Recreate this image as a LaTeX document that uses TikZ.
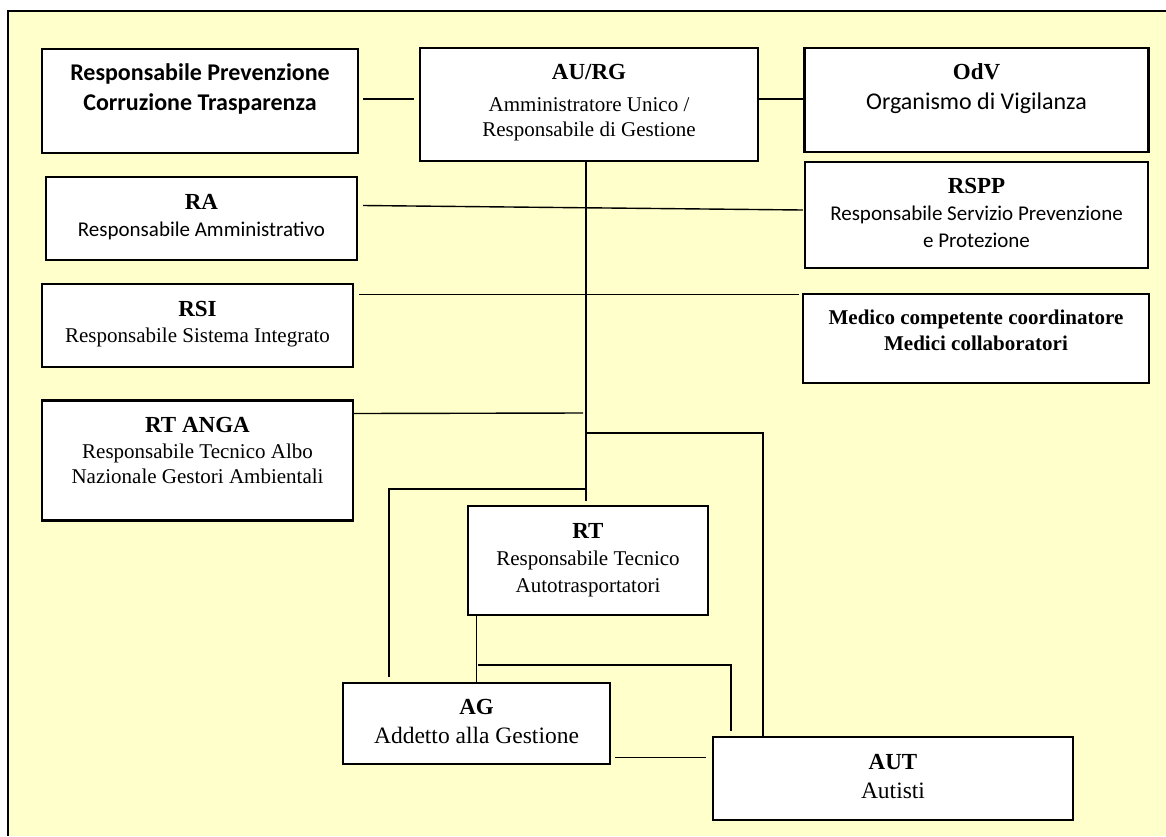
\documentclass[tikz,border=0pt]{standalone}
\usepackage{fontspec}
\setmainfont{Liberation Serif}
\newfontfamily\calibfont{Carlito}
\usetikzlibrary{calc}
\definecolor{bgyellow}{RGB}{255,255,204}
\begin{document}
\begin{tikzpicture}[x=1pt,y=-1pt,
  box/.style={draw=black, line width=2.2pt, fill=white, inner sep=0pt},
  conn/.style={line width=1.4pt, draw=black},
  tit/.style={anchor=base, inner sep=0pt, font=\fontsize{23}{27}\selectfont\bfseries},
  txt/.style={anchor=base, inner sep=0pt, font=\fontsize{21}{25}\selectfont},
  btxt/.style={anchor=base, inner sep=0pt, font=\fontsize{21}{25}\selectfont\bfseries},
  ltxt/.style={anchor=base, inner sep=0pt, font=\fontsize{23.5}{27}\selectfont},
  ctxt/.style={anchor=base, inner sep=0pt, font=\calibfont\fontsize{21}{25}\selectfont},
  lctxt/.style={anchor=base, inner sep=0pt, font=\calibfont\fontsize{24}{28}\selectfont},
  cbtxt/.style={anchor=base, inner sep=0pt, font=\calibfont\fontsize{24}{28}\selectfont\bfseries}]
\useasboundingbox (0,0) rectangle (1166,836);
\fill[bgyellow] (8,11) rectangle (1166,836);
\draw[line width=2pt] (8,836) -- (8,11) -- (1166,11);

% boxes
\node[box, minimum width=316pt, minimum height=104pt] (rpct) at (200,101) {};
\node[box, minimum width=338pt, minimum height=113pt] (au) at (589,104.5) {};
\node[box, minimum width=344pt, minimum height=104pt] (odv) at (976.5,100) {};
\node[box, minimum width=343pt, minimum height=106pt] (rspp) at (976.5,215) {};
\node[box, minimum width=311pt, minimum height=83pt] (ra) at (201.5,218.5) {};
\node[box, minimum width=311pt, minimum height=83pt] (rsi) at (197.5,325.5) {};
\node[box, minimum width=311pt, minimum height=120pt] (rtanga) at (197.5,460.5) {};
\node[box, minimum width=346pt, minimum height=89pt] (medico) at (976,338.5) {};
\node[box, minimum width=240pt, minimum height=109pt] (rt) at (588,560.5) {};
\node[box, minimum width=267pt, minimum height=81pt] (ag) at (476.5,723.5) {};
\node[box, minimum width=360pt, minimum height=83pt] (aut) at (893,778.5) {};

% texts
\node[cbtxt] (rpct1) at ($(rpct.north)+(0,33)$) {Responsabile Prevenzione};
\node[cbtxt] (rpct2) at ($(rpct.north)+(0,63)$) {Corruzione Trasparenza};

\node[tit] (au1) at ($(au.north)+(0,33)$) {AU/RG};
\node[txt] (au2) at ($(au.north)+(0,65)$) {Amministratore Unico /};
\node[txt] (au3) at ($(au.north)+(0,90)$) {Responsabile di Gestione};

\node[tit] (odv1) at ($(odv.north)+(0,33)$) {OdV};
\node[lctxt] (odv2) at ($(odv.north)+(0,63)$) {Organismo di Vigilanza};

\node[tit] (rspp1) at ($(rspp.north)+(0,33)$) {RSPP};
\node[ctxt] (rspp2) at ($(rspp.north)+(0,59.7)$) {Responsabile Servizio Prevenzione};
\node[ctxt] (rspp3) at ($(rspp.north)+(0,87)$) {e Protezione};

\node[tit] (ra1) at ($(ra.north)+(0,33.7)$) {RA};
\node[ctxt] (ra2) at ($(ra.north)+(0,60.7)$) {Responsabile Amministrativo};

\node[tit] (rsi1) at ($(rsi.north)+(0,33.3)$) {RSI};
\node[txt] (rsi2) at ($(rsi.north)+(0,60)$) {Responsabile Sistema Integrato};

\node[tit] (rtanga1) at ($(rtanga.north)+(0,32.6)$) {RT ANGA};
\node[txt] (rtanga2) at ($(rtanga.north)+(0,59.3)$) {Responsabile Tecnico Albo};
\node[txt] (rtanga3) at ($(rtanga.north)+(0,84.3)$) {Nazionale Gestori Ambientali};

\node[btxt] (med1) at ($(medico.north)+(0,32)$) {Medico competente coordinatore};
\node[btxt] (med2) at ($(medico.north)+(0,57.7)$) {Medici collaboratori};

\node[tit] (rt1) at ($(rt.north)+(0,34)$) {RT};
\node[txt] (rt2) at ($(rt.north)+(0,60.7)$) {Responsabile Tecnico};
\node[txt] (rt3) at ($(rt.north)+(0,87.3)$) {Autotrasportatori};

\node[tit] (ag1) at ($(ag.north)+(0,32.7)$) {AG};
\node[ltxt] (ag2) at ($(ag.north)+(0,62)$) {Addetto alla Gestione};

\node[tit] (aut1) at ($(aut.north)+(0,34)$) {AUT};
\node[ltxt] (aut2) at ($(aut.north)+(0,63)$) {Autisti};

% junction coordinates
\coordinate (angaend) at (583,413);
\coordinate (j1) at (586,433);
\coordinate (j2) at (586,489);
\coordinate (j3) at (478,665);

% connectors
\draw[conn] ($(rpct.east)+(4,-2)$) -- ($(au.west)+(-5,-5.5)$);
\draw[conn] ($(au.east)+(0,-5.5)$) -- ($(odv.west)+(0,-1)$);
\draw[conn] ($(au.south)+(-3,0)$) -- ($(rt.north)+(-2,-4)$);
\draw[conn] ($(ra.east)+(5,-13)$) -- ($(rspp.west)+(-1,-5)$);
\draw[conn] ($(rsi.east)+(5,-31)$) -- ($(medico.west)+(-3,-44)$);
\draw[conn] ($(rtanga.east)+(0,-47)$) -- (angaend);
\draw[conn] (j1) -| ($(aut.north west)+(51,0)$);
\draw[conn] (j2) -| ($(ag.north west)+(47,-5)$);
\draw[conn] (ag.north |- rt.south) -- (ag.north);
\draw[conn] (j3) -| ($(aut.north west)+(19,-5)$);
\draw[conn] ($(ag.east)+(4,34)$) -- ($(aut.west)+(-6,-21)$);
\end{tikzpicture}
\end{document}
